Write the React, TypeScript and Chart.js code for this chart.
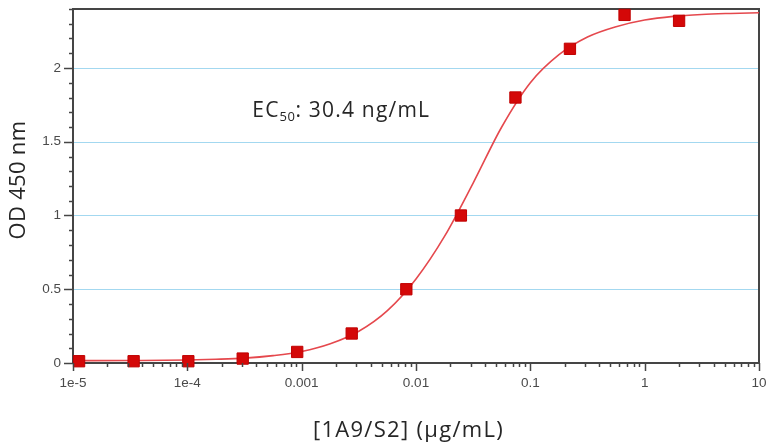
import React, { useEffect, useRef } from 'react';
import { Chart, registerables } from 'chart.js';

Chart.register(...registerables);

// Measured points (1:3 dilution series, µg/mL) and OD450 readings
const concentrations = [1.13e-5, 3.39e-5, 1.02e-4, 3.05e-4, 9.14e-4, 2.74e-3, 8.23e-3, 0.0247, 0.0741, 0.222, 0.667, 2.0];
const odValues = [0.012, 0.012, 0.012, 0.03, 0.075, 0.2, 0.5, 1.0, 1.8, 2.13, 2.36, 2.32];

// Fitted curve
const fitConcentrations = [1e-5, 3.16e-5, 1e-4, 1.78e-4, 3.16e-4, 5.62e-4, 1e-3, 1.78e-3, 3.16e-3, 5.62e-3, 0.01, 0.0178, 0.0316, 0.0562, 0.1, 0.178, 0.316, 0.562, 1, 1.78, 3.16, 5.62, 10];
const fitValues = [0.016, 0.017, 0.02, 0.025, 0.033, 0.05, 0.078, 0.13, 0.215, 0.355, 0.57, 0.86, 1.22, 1.6, 1.9, 2.09, 2.21, 2.28, 2.325, 2.35, 2.363, 2.37, 2.375];

const xTickValues = [1e-5, 1e-4, 1e-3, 1e-2, 1e-1, 1, 10];
const xTickLabels = ['1e-5', '1e-4', '0.001', '0.01', '0.1', '1', '10'];
const yTickValues = [0, 0.5, 1, 1.5, 2];
const yTickLabels = ['0', '0.5', '1', '1.5', '2'];
const yGridValues = [0.5, 1, 1.5, 2];

const xTitle = '[1A9/S2] (µg/mL)';
const yTitle = 'OD 450 nm';
const annotationMain = 'EC';
const annotationSub = '50';
const annotationRest = ': 30.4 ng/mL';

const AXIS_COLOR = '#454545';
const LABEL_COLOR = '#4a4a4a';
const TEXT_COLOR = '#262626';
const GRID_COLOR = '#a3d8f0';

const decorPlugin = {
  id: 'decor',
  beforeDatasetsDraw(chart: any) {
    const { ctx, chartArea: a } = chart;
    const ys = chart.scales.y;
    ctx.save();
    // gridlines
    ctx.strokeStyle = GRID_COLOR;
    ctx.lineWidth = 1.2;
    yGridValues.forEach((v) => {
      const py = Math.round(ys.getPixelForValue(v)) + 0.5;
      ctx.beginPath();
      ctx.moveTo(a.left, py);
      ctx.lineTo(a.right, py);
      ctx.stroke();
    });
    // frame
    ctx.strokeStyle = AXIS_COLOR;
    ctx.lineWidth = 2;
    ctx.strokeRect(a.left, a.top, a.right - a.left, a.bottom - a.top);
    ctx.restore();
  },
  afterDraw(chart: any) {
    const { ctx, chartArea: a } = chart;
    const xs = chart.scales.x;
    const ys = chart.scales.y;
    ctx.save();
    ctx.strokeStyle = AXIS_COLOR;
    ctx.lineWidth = 1.5;
    // x ticks
    for (let d = -5; d <= 1; d++) {
      for (let m = 1; m <= 9; m++) {
        const v = m * Math.pow(10, d);
        const px = Math.round(xs.getPixelForValue(v)) + 0.5;
        const len = m === 1 ? 8 : 4;
        ctx.beginPath();
        ctx.moveTo(px, a.bottom);
        ctx.lineTo(px, a.bottom + len);
        ctx.stroke();
        if (d === 1) break;
      }
    }
    // y ticks
    for (let i = 0; i <= 24; i++) {
      const v = i / 10;
      const py = Math.round(ys.getPixelForValue(v)) + 0.5;
      const len = i % 5 === 0 ? 9 : 4;
      ctx.beginPath();
      ctx.moveTo(a.left, py);
      ctx.lineTo(a.left - len, py);
      ctx.stroke();
    }
    // tick labels
    ctx.fillStyle = LABEL_COLOR;
    ctx.font = '13.5px "Liberation Sans", Arial, sans-serif';
    ctx.textAlign = 'center';
    ctx.textBaseline = 'middle';
    xTickValues.forEach((v, i) => {
      ctx.fillText(xTickLabels[i], xs.getPixelForValue(v), a.bottom + 20);
    });
    ctx.textAlign = 'right';
    yTickValues.forEach((v, i) => {
      ctx.fillText(yTickLabels[i], a.left - 12, ys.getPixelForValue(v));
    });
    // axis titles
    ctx.fillStyle = TEXT_COLOR;
    ctx.textAlign = 'center';
    ctx.textBaseline = 'middle';
    ctx.font = '22px "Open Sans", sans-serif';
    (ctx as any).letterSpacing = '1.3px';
    ctx.fillText(xTitle, a.left + (a.right - a.left) * 0.489, a.bottom + 68);
    (ctx as any).letterSpacing = '0.3px';
    ctx.save();
    ctx.translate(19, ys.getPixelForValue(1.24));
    ctx.rotate(-Math.PI / 2);
    ctx.font = '22px "Open Sans", sans-serif';
    ctx.fillText(yTitle, 0, 0);
    ctx.restore();
    // annotation
    ctx.fillStyle = TEXT_COLOR;
    ctx.textAlign = 'left';
    ctx.textBaseline = 'alphabetic';
    (ctx as any).letterSpacing = '1.2px';
    let x = xs.getPixelForValue(3.7e-4);
    const y = ys.getPixelForValue(1.67);
    ctx.font = '21px "Open Sans", sans-serif';
    ctx.fillText(annotationMain, x, y);
    x += ctx.measureText(annotationMain).width;
    ctx.font = '13px "Open Sans", sans-serif';
    (ctx as any).letterSpacing = '0.5px';
    ctx.fillText(annotationSub, x, y + 4);
    x += ctx.measureText(annotationSub).width;
    (ctx as any).letterSpacing = '1.2px';
    ctx.font = '21px "Open Sans", sans-serif';
    ctx.fillText(annotationRest, x, y);
    ctx.restore();
  },
};

export default function App() {
  const canvasRef = useRef<HTMLCanvasElement | null>(null);

  useEffect(() => {
    const canvas = canvasRef.current;
    if (!canvas) return;
    const chart = new Chart(canvas, {
      type: 'scatter',
      data: {
        datasets: [
          {
            label: 'points',
            data: concentrations.map((c, i) => ({ x: c, y: odValues[i] })),
            pointStyle: 'rect',
            pointRadius: 8,
            pointHoverRadius: 8,
            backgroundColor: '#d40808',
            borderColor: '#c00000',
            borderWidth: 1,
            showLine: false,
            clip: false,
            order: 0,
          },
          {
            label: 'fit',
            data: fitConcentrations.map((c, i) => ({ x: c, y: fitValues[i] })),
            showLine: true,
            borderColor: '#e5484d',
            borderWidth: 1.6,
            pointRadius: 0,
            cubicInterpolationMode: 'monotone',
            order: 1,
          } as any,
        ],
      },
      options: {
        animation: false,
        responsive: false,
        devicePixelRatio: 1,
        layout: { padding: { top: 7, right: 10, left: 0, bottom: 0 } },
        plugins: { legend: { display: false }, tooltip: { enabled: false } },
        scales: {
          x: {
            type: 'logarithmic',
            position: 'bottom',
            min: 1e-5,
            max: 10,
            ticks: { display: false },
            grid: { display: false },
            border: { display: false },
            afterBuildTicks: (s: any) => {
              s.ticks = xTickValues.map((v) => ({ value: v }));
            },
            afterFit: (s: any) => {
              s.height = 82;
            },
          },
          y: {
            type: 'linear',
            min: 0,
            max: 2.4,
            ticks: { display: false },
            grid: { display: false },
            border: { display: false },
            afterBuildTicks: (s: any) => {
              s.ticks = yTickValues.map((v) => ({ value: v }));
            },
            afterFit: (s: any) => {
              s.width = 73;
            },
          },
        },
      },
      plugins: [decorPlugin],
    });
    return () => chart.destroy();
  }, []);

  return (
    <div style={{ position: 'absolute', left: 0, top: 0, width: 769, height: 445, background: '#ffffff' }}>
      <canvas ref={canvasRef} width={769} height={445} style={{ width: 769, height: 445, display: 'block' }} />
    </div>
  );
}
